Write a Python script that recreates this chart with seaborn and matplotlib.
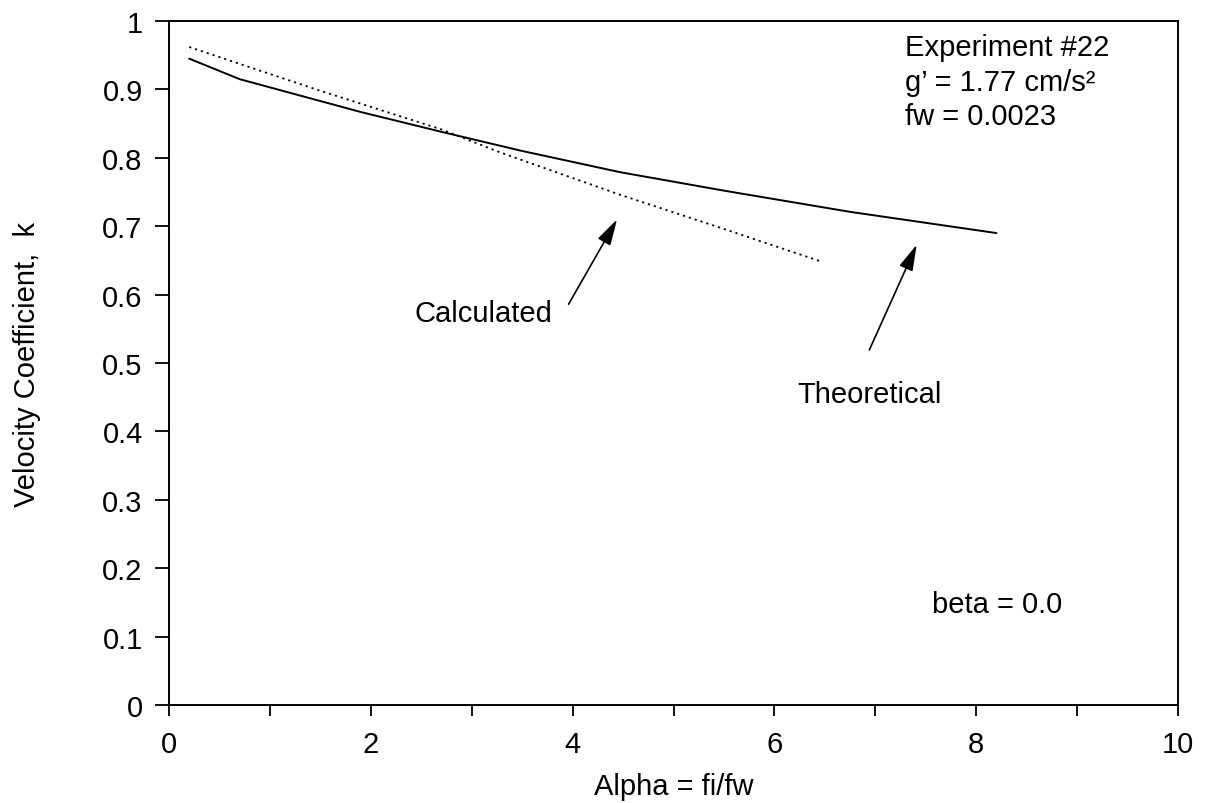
import matplotlib
matplotlib.use("Agg")
import matplotlib.pyplot as plt
import seaborn as sns
import pandas as pd
from matplotlib.ticker import FuncFormatter

# Theoretical velocity coefficient vs. alpha
alpha_theory = [0.2, 0.7, 1.0, 1.9, 2.7, 3.5, 4.47, 5.5, 6.75, 8.2]
k_theory = [0.945, 0.915, 0.903, 0.867, 0.838, 0.810, 0.779, 0.752, 0.721, 0.690]

# Calculated velocity coefficient vs. alpha
alpha_calc = [0.2, 1.5, 2.69, 3.28, 4.47, 5.5, 6.47]
k_calc = [0.962, 0.898, 0.842, 0.808, 0.746, 0.696, 0.648]

x_ticks = list(range(0, 11))
y_ticks = [i / 10 for i in range(0, 11)]

sns.set_theme(style="ticks")
plt.rcParams["font.family"] = ["Liberation Sans", "DejaVu Sans"]
plt.rcParams["text.color"] = "black"

FS = 21

fig = plt.figure(figsize=(12.1, 8.04), dpi=100)
ax = fig.add_axes([0.1397, 0.1219, 0.8339, 0.8507])

df_t = pd.DataFrame({"alpha": alpha_theory, "k": k_theory})
df_c = pd.DataFrame({"alpha": alpha_calc, "k": k_calc})

sns.lineplot(data=df_t, x="alpha", y="k", ax=ax, color="black", lw=1.4, sort=False)
sns.lineplot(data=df_c, x="alpha", y="k", ax=ax, color="black", lw=1.3,
             linestyle=(0, (1.2, 2.2)), sort=False)

ax.set_xlim(0, 10)
ax.set_ylim(0, 1)
ax.set_xticks(x_ticks)
ax.set_xticklabels([str(t) if t % 2 == 0 else "" for t in x_ticks])
ax.set_yticks(y_ticks)
ax.yaxis.set_major_formatter(FuncFormatter(lambda v, p: f"{v:g}"))

for s in ax.spines.values():
    s.set_linewidth(1.4)
    s.set_color("black")
ax.tick_params(axis="both", direction="out", width=1.3, color="black",
               labelsize=FS, labelcolor="black")
ax.tick_params(axis="x", length=8, pad=10)
ax.tick_params(axis="y", length=10, pad=9)

ax.set_xlabel("Alpha = fi/fw", fontsize=FS, labelpad=10, color="black")
ax.set_ylabel("Velocity Coefficient,  k", fontsize=FS, labelpad=44, color="black")

# Annotations
arrow = dict(arrowstyle="-|>,head_length=0.8,head_width=0.22", color="black", lw=1.2,
             shrinkA=0, shrinkB=0, mutation_scale=20)
ax.annotate("", xy=(4.44, 0.710), xytext=(3.96, 0.586), arrowprops=arrow)
ax.annotate("", xy=(7.41, 0.673), xytext=(6.94, 0.519), arrowprops=arrow)
ax.text(3.12, 0.573, "Calculated", fontsize=FS, ha="center", va="center")
ax.text(6.94, 0.454, "Theoretical", fontsize=FS, ha="center", va="center")

ax.text(7.29, 0.962, "Experiment #22", fontsize=FS, ha="left", va="center")
ax.text(7.29, 0.911, "g\u2019 = 1.77 cm/s\u00b2", fontsize=FS, ha="left", va="center")
ax.text(7.29, 0.861, "fw = 0.0023", fontsize=FS, ha="left", va="center")
ax.text(7.56, 0.148, "beta = 0.0", fontsize=FS, ha="left", va="center")

fig.savefig("out.png", dpi=100, facecolor="white")
